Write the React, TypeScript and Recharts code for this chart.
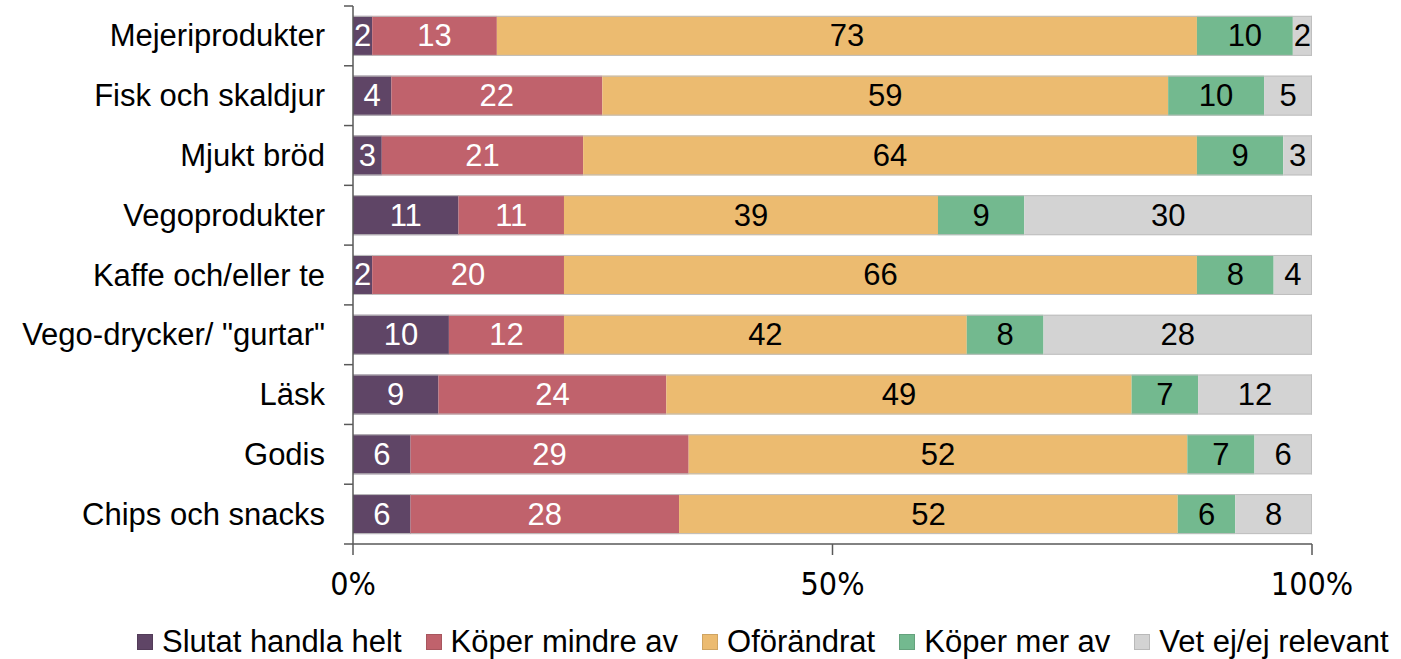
import { BarChart, Bar, XAxis, YAxis, LabelList } from 'recharts';

const categories = [
  'Mejeriprodukter',
  'Fisk och skaldjur',
  'Mjukt bröd',
  'Vegoprodukter',
  'Kaffe och/eller te',
  'Vego-drycker/ "gurtar"',
  'Läsk',
  'Godis',
  'Chips och snacks',
];

const slutat = [2, 4, 3, 11, 2, 10, 9, 6, 6];
const mindre = [13, 22, 21, 11, 20, 12, 24, 29, 28];
const oforandrat = [73, 59, 64, 39, 66, 42, 49, 52, 52];
const mer = [10, 10, 9, 9, 8, 8, 7, 7, 6];
const vetEj = [2, 5, 3, 30, 4, 28, 12, 6, 8];

const xTicks = [0, 0.5, 1];

const SERIES = [
  { key: 'slutat', name: 'Slutat handla helt', color: '#5f4566', labelColor: '#ffffff', values: slutat },
  { key: 'mindre', name: 'Köper mindre av', color: '#c0626c', labelColor: '#ffffff', values: mindre },
  { key: 'oforandrat', name: 'Oförändrat', color: '#ecbb70', labelColor: '#000000', values: oforandrat },
  { key: 'mer', name: 'Köper mer av', color: '#73b98f', labelColor: '#000000', values: mer },
  { key: 'vetEj', name: 'Vet ej/ej relevant', color: '#d3d3d3', labelColor: '#000000', values: vetEj },
];

const data = categories.map((name, i) => {
  const row: Record<string, string | number> = { name };
  SERIES.forEach(s => { row[s.key] = s.values[i]; });
  return row;
});

const W = 1401;
const H = 659;
const Y_AXIS_W = 353;
const MARGIN = { top: 6, right: 89, left: 0, bottom: 55 };
const X_AXIS_H = 60;
const PLOT_H = H - MARGIN.top - MARGIN.bottom - X_AXIS_H;
const BAND = PLOT_H / categories.length;
const AXIS_COLOR = '#595959';
const FONT = '"Liberation Sans", Arial, sans-serif';
const TICK_FONT = '"DejaVu Sans Condensed", "DejaVu Sans", sans-serif';

function CategoryTick({ y, payload, index }: { y: number; payload: { value: string }; index: number }) {
  const top = y - BAND / 2;
  const bottom = y + BAND / 2;
  return (
    <g>
      <text x={Y_AXIS_W - 28} y={y} textAnchor="end" dominantBaseline="central" fontSize={31} fontFamily={FONT} fill="#000">
        {payload.value}
      </text>
      <line x1={Y_AXIS_W - 9} x2={Y_AXIS_W} y1={top} y2={top} stroke={AXIS_COLOR} strokeWidth={1.5} />
      {index === categories.length - 1 && (
        <line x1={Y_AXIS_W - 9} x2={Y_AXIS_W} y1={bottom} y2={bottom} stroke={AXIS_COLOR} strokeWidth={1.5} />
      )}
    </g>
  );
}

function Segment(props: { x: number; y: number; width: number; height: number; fill: string; isLast: boolean }) {
  const { x, y, width, height, fill, isLast } = props;
  if (!width || !height) return null;
  return (
    <g>
      <rect x={x} y={y} width={width} height={height} fill={fill} />
      <line x1={x} x2={x + width} y1={y + 0.5} y2={y + 0.5} stroke="#bfbfbf" strokeWidth={1} />
      <line x1={x} x2={x + width} y1={y + height - 0.5} y2={y + height - 0.5} stroke="#bfbfbf" strokeWidth={1} />
      {isLast && <line x1={x + width - 0.5} x2={x + width - 0.5} y1={y} y2={y + height} stroke="#bfbfbf" strokeWidth={1} />}
    </g>
  );
}

export default function App() {
  return (
    <div style={{ position: 'absolute', left: 0, top: 0, width: W, height: H, background: '#fff' }}>
      <BarChart
        width={W}
        height={H}
        data={data}
        layout="vertical"
        stackOffset="expand"
        barCategoryGap="16.5%"
        margin={MARGIN}
      >
        <XAxis
          type="number"
          domain={[0, 1]}
          ticks={xTicks}
          height={X_AXIS_H}
          axisLine={{ stroke: AXIS_COLOR, strokeWidth: 1.5 }}
          tickLine={{ stroke: AXIS_COLOR, strokeWidth: 1.5 }}
          tickSize={11}
          tickMargin={17}
          tick={{ fontSize: 32, fontFamily: TICK_FONT, fill: '#000' }}
          tickFormatter={(v: number) => `${Math.round(v * 100)}%`}
        />
        <YAxis
          type="category"
          dataKey="name"
          width={Y_AXIS_W}
          axisLine={{ stroke: AXIS_COLOR, strokeWidth: 1.5 }}
          tickLine={false}
          interval={0}
          tick={(p: any) => <CategoryTick {...p} />}
        />
        {SERIES.map((s, si) => (
          <Bar
            key={s.key}
            dataKey={s.key}
            name={s.name}
            stackId="a"
            fill={s.color}
            isAnimationActive={false}
            shape={(p: any) => <Segment {...p} fill={s.color} isLast={si === SERIES.length - 1} />}
          >
            <LabelList
              dataKey={s.key}
              content={(p: any) => {
                const { x, y, width, height, index } = p;
                const v = s.values[index];
                return (
                  <text
                    x={Number(x) + Number(width) / 2}
                    y={Number(y) + Number(height) / 2}
                    textAnchor="middle"
                    dominantBaseline="central"
                    fontSize={31}
                    fontFamily={FONT}
                    fill={s.labelColor}
                  >
                    {v}
                  </text>
                );
              }}
            />
          </Bar>
        ))}
      </BarChart>

      {/* Legend */}
      <div
        style={{
          position: 'absolute',
          left: 137,
          top: 626,
          height: 32,
          display: 'flex',
          alignItems: 'center',
          gap: 24,
          fontFamily: FONT,
          fontSize: 31,
          lineHeight: '32px',
          color: '#000',
          whiteSpace: 'nowrap',
        }}
      >
        {SERIES.map(s => (
          <div key={s.key} style={{ display: 'flex', alignItems: 'center' }}>
            <div style={{ width: 14, height: 14, background: s.color, border: '1px solid rgba(0,0,0,0.12)', marginRight: 9 }} />
            <span>{s.name}</span>
          </div>
        ))}
      </div>
    </div>
  );
}
